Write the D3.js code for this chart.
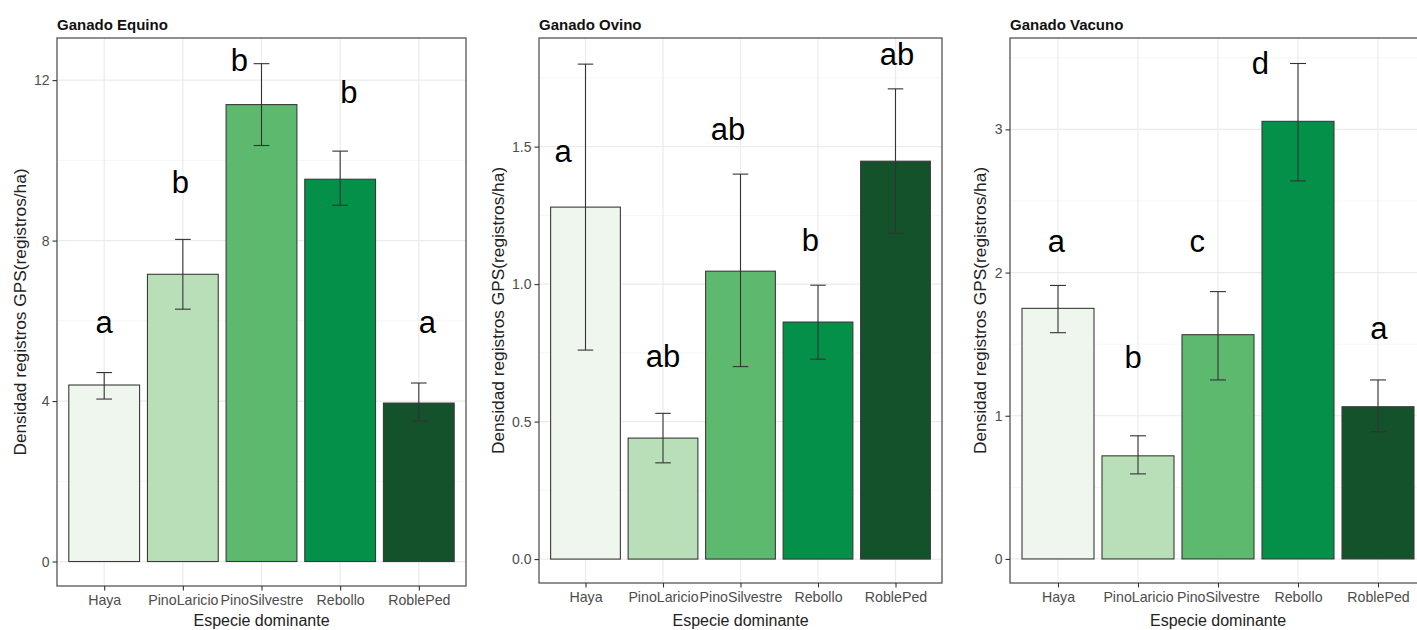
<!DOCTYPE html>
<html>
<head>
<meta charset="utf-8">
<script src="https://cdn.jsdelivr.net/npm/d3@7"></script>
<style>
  body { margin: 0; background: #ffffff; }
  svg text { font-family: "Liberation Sans", Arial, Helvetica, sans-serif; }
</style>
</head>
<body>
<svg id="chart" width="1417" height="630"></svg>
<script>
// Dominant tree species (x categories, shared by all panels)
const species = ["Haya", "PinoLaricio", "PinoSilvestre", "Rebollo", "RoblePed"];

// Ganado Equino: mean density, error-bar limits, significance letters
const equinoMean = [4.40, 7.16, 11.39, 9.53, 3.95];
const equinoLow = [4.05, 6.29, 10.37, 8.88, 3.50];
const equinoHigh = [4.71, 8.03, 12.41, 10.23, 4.45];
const equinoLetters = ["a", "b", "b", "b", "a"];
const equinoLetterY = [5.69, 9.18, 12.22, 11.42, 5.69];
const equinoLetterNudge = [0, -0.03, -0.28, 0.11, 0.11];
const equinoTicks = [0, 4, 8, 12];
const equinoTickLabels = ["0", "4", "8", "12"];
const equinoMinor = [2, 6, 10];

// Ganado Ovino
const ovinoMean = [1.28, 0.44, 1.047, 0.862, 1.447];
const ovinoLow = [0.76, 0.35, 0.70, 0.727, 1.185];
const ovinoHigh = [1.80, 0.53, 1.40, 0.996, 1.71];
const ovinoLetters = ["a", "ab", "ab", "b", "ab"];
const ovinoLetterY = [1.444, 0.70, 1.524, 1.12, 1.796];
const ovinoLetterNudge = [-0.29, 0, -0.16, -0.1, 0.02];
const ovinoTicks = [0, 0.5, 1.0, 1.5];
const ovinoTickLabels = ["0.0", "0.5", "1.0", "1.5"];
const ovinoMinor = [0.25, 0.75, 1.25, 1.75];

// Ganado Vacuno
const vacunoMean = [1.75, 0.72, 1.566, 3.056, 1.063];
const vacunoLow = [1.58, 0.594, 1.25, 2.64, 0.888];
const vacunoHigh = [1.91, 0.86, 1.867, 3.46, 1.25];
const vacunoLetters = ["a", "b", "c", "d", "a"];
const vacunoLetterY = [2.147, 1.336, 2.147, 3.385, 1.538];
const vacunoLetterNudge = [-0.02, -0.06, -0.26, -0.47, 0.01];
const vacunoTicks = [0, 1, 2, 3];
const vacunoTickLabels = ["0", "1", "2", "3"];
const vacunoMinor = [0.5, 1.5, 2.5, 3.5];

// Fill colours per species (green sequential)
const fills = ["#eff6ee", "#b9dfb8", "#5cb96e", "#05904a", "#14522c"];

const panels = [
  { title: "Ganado Equino", mean: equinoMean, low: equinoLow, high: equinoHigh,
    letters: equinoLetters, letterY: equinoLetterY, nudge: equinoLetterNudge,
    ticks: equinoTicks, tickLabels: equinoTickLabels, minor: equinoMinor,
    box: { left: 57, right: 466, top: 38, bottom: 586 }, domain: [-0.61, 13.05], ytitleX: 26 },
  { title: "Ganado Ovino", mean: ovinoMean, low: ovinoLow, high: ovinoHigh,
    letters: ovinoLetters, letterY: ovinoLetterY, nudge: ovinoLetterNudge,
    ticks: ovinoTicks, tickLabels: ovinoTickLabels, minor: ovinoMinor,
    box: { left: 539, right: 942, top: 38, bottom: 583 }, domain: [-0.087, 1.895], ytitleX: 504 },
  { title: "Ganado Vacuno", mean: vacunoMean, low: vacunoLow, high: vacunoHigh,
    letters: vacunoLetters, letterY: vacunoLetterY, nudge: vacunoLetterNudge,
    ticks: vacunoTicks, tickLabels: vacunoTickLabels, minor: vacunoMinor,
    box: { left: 1010, right: 1426, top: 38, bottom: 583 }, domain: [-0.168, 3.638], ytitleX: 986 }
];

const svg = d3.select("#chart");
svg.append("rect").attr("width", 1417).attr("height", 630).attr("fill", "#ffffff");

panels.forEach(p => {
  const b = p.box;
  const g = svg.append("g");

  const x = d3.scalePoint().domain(species).range([b.left, b.right]).padding(0.6);
  const step = x.step();
  const y = d3.scaleLinear().domain(p.domain).range([b.bottom, b.top]);

  // panel background
  g.append("rect")
    .attr("x", b.left).attr("y", b.top)
    .attr("width", b.right - b.left).attr("height", b.bottom - b.top)
    .attr("fill", "#ffffff");

  // minor grid
  g.selectAll(".minor").data(p.minor).enter().append("line")
    .attr("x1", b.left).attr("x2", b.right)
    .attr("y1", d => y(d)).attr("y2", d => y(d))
    .attr("stroke", "#f3f3f3").attr("stroke-width", 0.8);

  // major grid
  g.selectAll(".hmajor").data(p.ticks).enter().append("line")
    .attr("x1", b.left).attr("x2", b.right)
    .attr("y1", d => y(d)).attr("y2", d => y(d))
    .attr("stroke", "#ebebeb").attr("stroke-width", 1.2);
  g.selectAll(".vmajor").data(species).enter().append("line")
    .attr("x1", d => x(d)).attr("x2", d => x(d))
    .attr("y1", b.top).attr("y2", b.bottom)
    .attr("stroke", "#ebebeb").attr("stroke-width", 1.2);

  // bars
  const barW = step * 0.9;
  g.selectAll(".bar").data(species).enter().append("rect")
    .attr("x", d => x(d) - barW / 2)
    .attr("width", barW)
    .attr("y", (d, i) => y(p.mean[i]))
    .attr("height", (d, i) => y(0) - y(p.mean[i]))
    .attr("fill", (d, i) => fills[i])
    .attr("stroke", "#3a3a3a").attr("stroke-width", 1.1);

  // error bars
  const capW = step * 0.2;
  const eb = g.selectAll(".err").data(species).enter().append("g")
    .attr("stroke", "#333333").attr("stroke-width", 1.1);
  eb.append("line")
    .attr("x1", d => x(d)).attr("x2", d => x(d))
    .attr("y1", (d, i) => y(p.low[i])).attr("y2", (d, i) => y(p.high[i]));
  eb.append("line")
    .attr("x1", d => x(d) - capW / 2).attr("x2", d => x(d) + capW / 2)
    .attr("y1", (d, i) => y(p.low[i])).attr("y2", (d, i) => y(p.low[i]));
  eb.append("line")
    .attr("x1", d => x(d) - capW / 2).attr("x2", d => x(d) + capW / 2)
    .attr("y1", (d, i) => y(p.high[i])).attr("y2", (d, i) => y(p.high[i]));

  // significance letters
  g.selectAll(".letter").data(species).enter().append("text")
    .attr("x", (d, i) => x(d) + p.nudge[i] * step)
    .attr("y", (d, i) => y(p.letterY[i]))
    .attr("text-anchor", "middle")
    .attr("font-size", 31)
    .attr("fill", "#000000")
    .text((d, i) => p.letters[i]);

  // panel border
  g.append("rect")
    .attr("x", b.left).attr("y", b.top)
    .attr("width", b.right - b.left).attr("height", b.bottom - b.top)
    .attr("fill", "none").attr("stroke", "#555555").attr("stroke-width", 1.3);

  // axes
  const yAxis = d3.axisLeft(y).tickValues(p.ticks)
    .tickFormat((d, i) => p.tickLabels[i]).tickSize(4.5).tickPadding(3);
  const ya = g.append("g").attr("transform", `translate(${b.left},0)`).call(yAxis);
  ya.select(".domain").remove();
  ya.selectAll(".tick line").attr("stroke", "#333333").attr("stroke-width", 1.1);
  ya.selectAll(".tick text").attr("fill", "#4d4d4d").attr("font-size", 14)
    .attr("font-family", "Liberation Sans, Arial, sans-serif");

  const xAxis = d3.axisBottom(x).tickSize(4.5).tickPadding(4);
  const xa = g.append("g").attr("transform", `translate(0,${b.bottom})`).call(xAxis);
  xa.select(".domain").remove();
  xa.selectAll(".tick line").attr("stroke", "#333333").attr("stroke-width", 1.1);
  xa.selectAll(".tick text").attr("fill", "#4d4d4d").attr("font-size", 14.2)
    .attr("font-family", "Liberation Sans, Arial, sans-serif");

  // titles
  g.append("text")
    .attr("x", b.left).attr("y", 30)
    .attr("font-size", 15).attr("font-weight", "bold").attr("fill", "#111111")
    .text(p.title);

  g.append("text")
    .attr("x", (x(species[0]) + x(species[4])) / 2).attr("y", 626)
    .attr("text-anchor", "middle").attr("font-size", 16).attr("fill", "#222222")
    .text("Especie dominante");

  g.append("text")
    .attr("transform", `translate(${p.ytitleX},${(b.top + b.bottom) / 2}) rotate(-90)`)
    .attr("text-anchor", "middle").attr("font-size", 17.3).attr("fill", "#222222")
    .text("Densidad registros GPS(registros/ha)");
});
</script>
</body>
</html>
